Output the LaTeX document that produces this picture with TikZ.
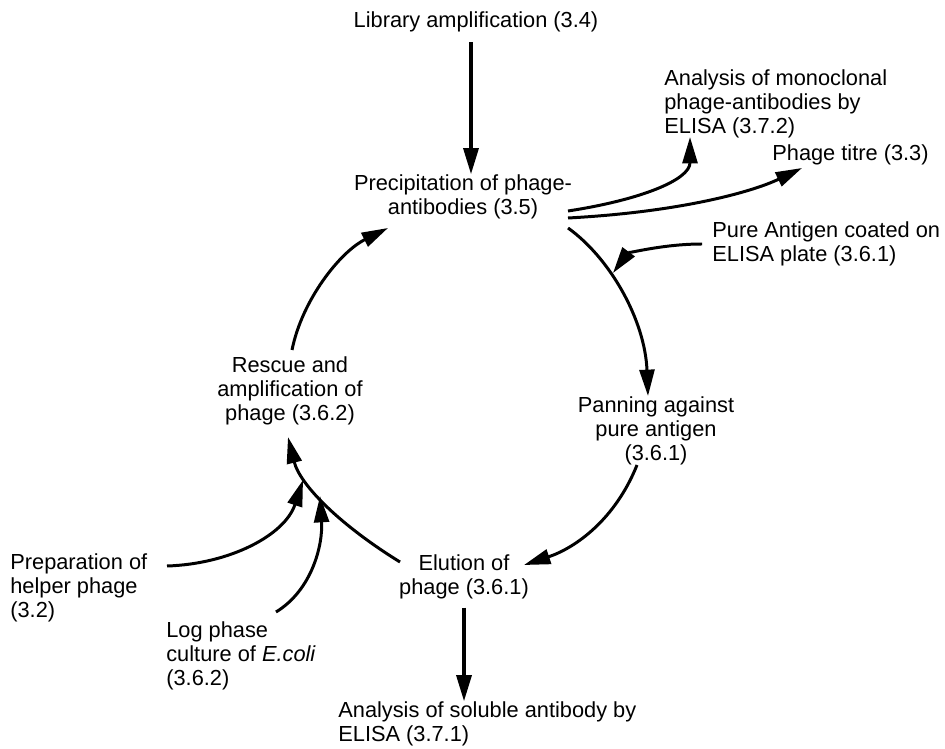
\documentclass[tikz,border=0pt]{standalone}
\usepackage{fontspec}
\setmainfont{Liberation Sans}
\usetikzlibrary{arrows.meta}
\begin{document}
\begin{tikzpicture}[x=0.02cm,y=-0.02cm,
  lbl/.style={inner sep=0pt, font=\fontsize{12.4}{13.8}\selectfont},
  arr/.style={line width=1.7pt, -{Triangle[length=15pt,width=8.5pt]}},
  sarr/.style={line width=2.1pt, -{Triangle[length=15pt,width=8.5pt]}}]
\useasboundingbox (0,0) rectangle (945,749);

\node[lbl] (lib) at (476,22) {Library amplification (3.4)};
\node[lbl, align=center] (prec) at (463,197) {Precipitation of phage-\\antibodies (3.5)};
\node[lbl, align=left, anchor=west] (mono) at (664,104) {Analysis of monoclonal\\phage-antibodies by\\ELISA (3.7.2)};
\node[lbl, anchor=west] (titre) at (772,155) {Phage titre (3.3)};
\node[lbl, align=left, anchor=west] (pure) at (712,244) {Pure Antigen coated on\\ELISA plate (3.6.1)};
\node[lbl, align=center] (rescue) at (290,391) {Rescue and\\amplification of\\phage (3.6.2)};
\node[lbl, align=center] (pan) at (656,431) {Panning against\\pure antigen\\(3.6.1)};
\node[lbl, align=left, anchor=west] (prep) at (10,588) {Preparation of\\helper phage\\(3.2)};
\node[lbl, align=center] (elu) at (464,577) {Elution of\\phage (3.6.1)};
\node[lbl, align=left, anchor=west] (log) at (166,656) {Log phase\\culture of \textit{E.coli}\\(3.6.2)};
\node[lbl, align=left, anchor=west] (sol) at (338,724) {Analysis of soluble antibody by\\ELISA (3.7.1)};

% connector end points
\coordinate (pa) at (568,211);
\coordinate (pb) at (568,218);
\coordinate (pc) at (568,228);
\coordinate (monoin) at (690,137);
\coordinate (titrein) at (802,168);
\coordinate (panin) at (648,396);
\coordinate (pureout) at (702,244);
\coordinate (purein) at (613,273);
\coordinate (panout) at (637,465);
\coordinate (eluin) at (524,565);
\coordinate (eluout) at (400,562);
\coordinate (rescuein) at (288,437);
\coordinate (prepout) at (167,566);
\coordinate (prepin) at (303,480);
\coordinate (logout) at (276,612);
\coordinate (login) at (320,496);
\coordinate (rescueout) at (292,350);
\coordinate (precin) at (388,228);

\draw[sarr] (lib.south -| 471,0) ++(0,10) -- (prec.north -| 471,0);
\draw[arr] (pa) .. controls (640,200) and (690,180) .. (monoin);
\draw[arr] (pb) .. controls (680,212) and (752,192) .. (titrein);
\draw[arr] (pc) .. controls (610,258) and (645,320) .. (panin);
\draw[arr] (pureout) .. controls (662,244) and (627,254) .. (purein);
\draw[arr] (panout) .. controls (615,520) and (575,548) .. (eluin);
\draw[arr] (eluout) .. controls (340,525) and (300,485) .. (rescuein);
\draw[arr] (prepout) .. controls (230,564) and (285,535) .. (prepin);
\draw[arr] (logout) .. controls (312,590) and (323,545) .. (login);
\draw[arr] (rescueout) .. controls (302,300) and (340,252) .. (precin);
\draw[sarr] (elu.south -| 464,0) ++(0,8) -- (sol.north -| 464,0);
\end{tikzpicture}
\end{document}
